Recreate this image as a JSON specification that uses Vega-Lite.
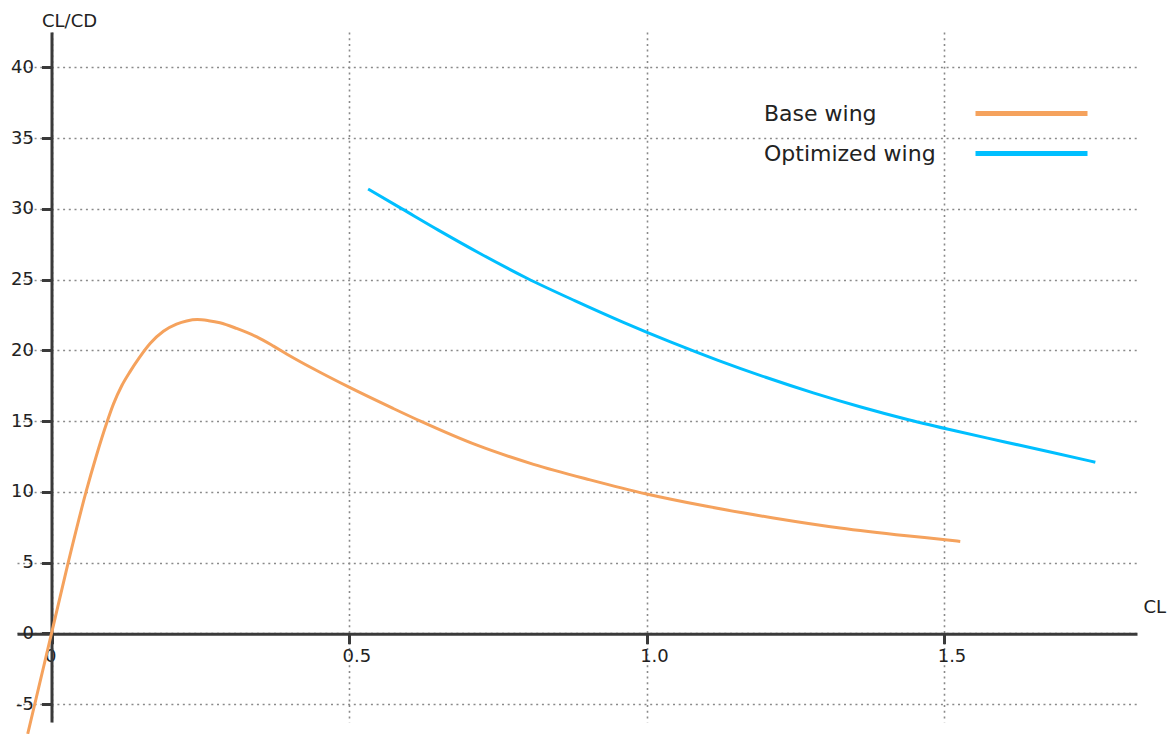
{
  "$schema": "https://vega.github.io/schema/vega-lite/v6.json",
  "width": 1120,
  "height": 690,
  "autosize": "none",
  "padding": {"left": 17, "top": 32, "right": 34, "bottom": 12},
  "background": "white",
  "config": {
    "view": {"stroke": null},
    "font": "DejaVu Sans",
    "axis": {
      "domainColor": "#3a3a3a",
      "domainWidth": 3,
      "tickColor": "#3a3a3a",
      "tickWidth": 3,
      "tickSize": 10,
      "gridColor": "#8a8a8a",
      "gridDash": [2, 3.7],
      "gridWidth": 1.6,
      "labelFont": "DejaVu Sans",
      "labelFontSize": 18,
      "labelColor": "#222222",
      "titleFont": "DejaVu Sans",
      "titleFontSize": 18,
      "titleFontWeight": "normal",
      "titleColor": "#222222"
    }
  },
  "data": {
    "values": [
      {"series": "Base wing", "cl": -0.04, "ratio": -7.1},
      {"series": "Base wing", "cl": -0.02, "ratio": -3.55},
      {"series": "Base wing", "cl": 0.0, "ratio": 0.0},
      {"series": "Base wing", "cl": 0.028, "ratio": 5.0},
      {"series": "Base wing", "cl": 0.058, "ratio": 10.0},
      {"series": "Base wing", "cl": 0.075, "ratio": 12.5},
      {"series": "Base wing", "cl": 0.093, "ratio": 14.9},
      {"series": "Base wing", "cl": 0.104, "ratio": 16.2},
      {"series": "Base wing", "cl": 0.118, "ratio": 17.5},
      {"series": "Base wing", "cl": 0.132, "ratio": 18.5},
      {"series": "Base wing", "cl": 0.147, "ratio": 19.45},
      {"series": "Base wing", "cl": 0.166, "ratio": 20.5},
      {"series": "Base wing", "cl": 0.188, "ratio": 21.35},
      {"series": "Base wing", "cl": 0.21, "ratio": 21.85},
      {"series": "Base wing", "cl": 0.227, "ratio": 22.08},
      {"series": "Base wing", "cl": 0.245, "ratio": 22.18},
      {"series": "Base wing", "cl": 0.264, "ratio": 22.1},
      {"series": "Base wing", "cl": 0.283, "ratio": 21.95},
      {"series": "Base wing", "cl": 0.311, "ratio": 21.55},
      {"series": "Base wing", "cl": 0.345, "ratio": 20.95},
      {"series": "Base wing", "cl": 0.373, "ratio": 20.3},
      {"series": "Base wing", "cl": 0.395, "ratio": 19.75},
      {"series": "Base wing", "cl": 0.44, "ratio": 18.7},
      {"series": "Base wing", "cl": 0.5, "ratio": 17.4},
      {"series": "Base wing", "cl": 0.574, "ratio": 15.9},
      {"series": "Base wing", "cl": 0.62, "ratio": 15.0},
      {"series": "Base wing", "cl": 0.715, "ratio": 13.3},
      {"series": "Base wing", "cl": 0.81, "ratio": 11.95},
      {"series": "Base wing", "cl": 0.905, "ratio": 10.85},
      {"series": "Base wing", "cl": 1.0, "ratio": 9.85},
      {"series": "Base wing", "cl": 1.101, "ratio": 8.98},
      {"series": "Base wing", "cl": 1.213, "ratio": 8.16},
      {"series": "Base wing", "cl": 1.325, "ratio": 7.45},
      {"series": "Base wing", "cl": 1.437, "ratio": 6.9},
      {"series": "Base wing", "cl": 1.502, "ratio": 6.62},
      {"series": "Base wing", "cl": 1.527, "ratio": 6.5},
      {"series": "Optimized wing", "cl": 0.532, "ratio": 31.4},
      {"series": "Optimized wing", "cl": 0.589, "ratio": 30.0},
      {"series": "Optimized wing", "cl": 0.65, "ratio": 28.5},
      {"series": "Optimized wing", "cl": 0.72, "ratio": 26.85},
      {"series": "Optimized wing", "cl": 0.799, "ratio": 25.1},
      {"series": "Optimized wing", "cl": 0.88, "ratio": 23.5},
      {"series": "Optimized wing", "cl": 0.96, "ratio": 22.0},
      {"series": "Optimized wing", "cl": 1.04, "ratio": 20.6},
      {"series": "Optimized wing", "cl": 1.12, "ratio": 19.3},
      {"series": "Optimized wing", "cl": 1.2, "ratio": 18.1},
      {"series": "Optimized wing", "cl": 1.28, "ratio": 17.0},
      {"series": "Optimized wing", "cl": 1.36, "ratio": 16.0},
      {"series": "Optimized wing", "cl": 1.44, "ratio": 15.1},
      {"series": "Optimized wing", "cl": 1.52, "ratio": 14.3},
      {"series": "Optimized wing", "cl": 1.6, "ratio": 13.55},
      {"series": "Optimized wing", "cl": 1.68, "ratio": 12.8},
      {"series": "Optimized wing", "cl": 1.754, "ratio": 12.1}
    ]
  },
  "mark": {"type": "line", "strokeWidth": 3, "interpolate": "monotone", "clip": false},
  "encoding": {
    "x": {
      "field": "cl",
      "type": "quantitative",
      "scale": {"domain": [-0.058, 1.824], "nice": false, "zero": false},
      "axis": {
        "orient": "bottom",
        "offset": -88.3,
        "values": [0, 0.5, 1, 1.5],
        "labelExpr": "datum.value == 0 ? '0' : format(datum.value, '.1f')",
        "labelAlign": "left",
        "labelOffset": -7,
        "labelBaseline": "top",
        "labelPadding": 4,
        "labelFlush": false,
        "labelOverlap": false,
        "grid": true,
        "title": "CL",
        "titleAngle": 0,
        "titleAlign": "left",
        "titleBaseline": "alphabetic",
        "titleX": 1126,
        "titleY": -21
      }
    },
    "y": {
      "field": "ratio",
      "type": "quantitative",
      "scale": {"domain": [-6.26, 42.5], "nice": false, "zero": false},
      "axis": {
        "orient": "left",
        "offset": -34.5,
        "values": [-5, 0, 5, 10, 15, 20, 25, 30, 35, 40],
        "labelExpr": "'' + datum.value",
        "labelPadding": 8,
        "labelBaseline": "middle",
        "labelFlush": false,
        "labelOverlap": false,
        "grid": true,
        "title": "CL/CD",
        "titleAngle": 0,
        "titleAlign": "left",
        "titleBaseline": "alphabetic",
        "titleX": -10,
        "titleY": -6
      }
    },
    "color": {
      "field": "series",
      "type": "nominal",
      "scale": {"domain": ["Base wing", "Optimized wing"], "range": ["#f5a25d", "#00bfff"]},
      "legend": {
        "orient": "none",
        "legendX": 998,
        "legendY": 65,
        "title": null,
        "padding": 0,
        "symbolType": "M-4,0H4",
        "symbolSize": 784,
        "symbolStrokeWidth": 5,
        "symbolFillColor": "transparent",
        "rowPadding": 12,
        "labelOffset": -284,
        "labelFont": "DejaVu Sans",
        "labelFontSize": 22,
        "labelColor": "#222222",
        "labelLimit": 400
      }
    }
  }
}
